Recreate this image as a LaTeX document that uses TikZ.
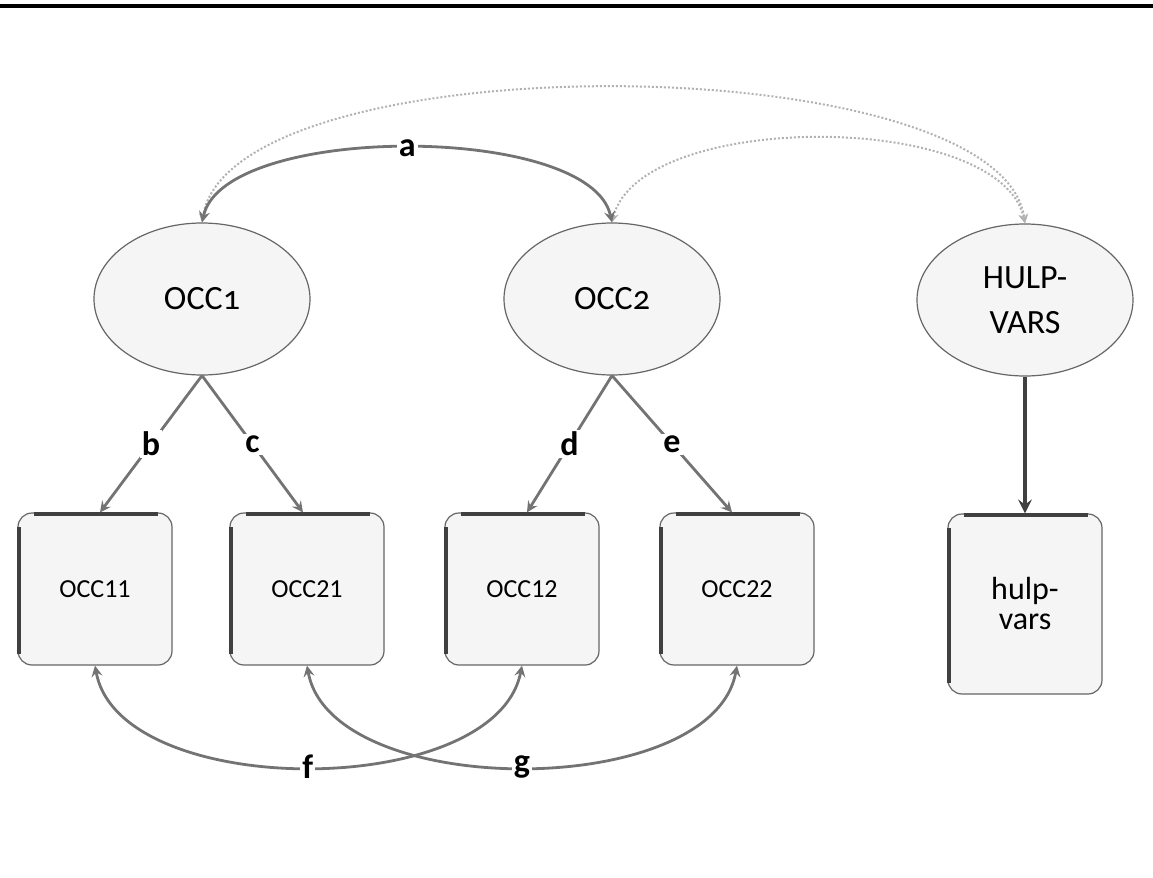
\documentclass[tikz,border=0pt]{standalone}
\usepackage{fontspec}
\setmainfont{Carlito}
\newfontfamily\oldnum[Numbers=OldStyle]{Carlito}
\usetikzlibrary{positioning, calc, shapes, arrows}

\tikzset{
  latent/.style={ellipse, draw=black!60, fill=black!4, line width=0.6pt,
    minimum width=108pt, minimum height=76pt, inner sep=0pt, align=center},
  observed/.style={rectangle, rounded corners=7pt, draw=black!60, fill=black!4,
    line width=0.6pt, minimum width=77pt, minimum height=76pt, inner sep=0pt, align=center},
  loading/.style={-stealth, draw=black!55, line width=1.4pt},
  covar/.style={stealth-stealth, draw=black!55, line width=1.4pt},
  aux/.style={stealth-stealth, draw=black!30, line width=1pt, densely dotted},
  lbl/.style={fill=white, inner sep=1pt, font=\bfseries\fontsize{17}{20}\selectfont},
  edge/.style={draw=black!75, line width=2pt}
}

\begin{document}
\begin{tikzpicture}[x=0.5pt, y=-0.5pt]
  \useasboundingbox (0,0) rectangle (1153,878);
  \draw[line width=1.8pt] (0,6) -- (1153,6);

  % latente variabelen
  \node[latent, font=\fontsize{17}{20}\selectfont] (occ1) at (202,299) {OCC{\oldnum 1}};
  \node[latent, font=\fontsize{17}{20}\selectfont] (occ2) at (612,299) {OCC{\oldnum 2}};
  \node[latent, font=\fontsize{17}{22.5}\selectfont] (hulpv) at (1025,300) {HULP-\\VARS};

  % geobserveerde variabelen
  \node[observed, font=\fontsize{13}{15}\selectfont] (occ11) at (95,589) {OCC11};
  \node[observed, font=\fontsize{13}{15}\selectfont] (occ21) at (307,589) {OCC21};
  \node[observed, font=\fontsize{13}{15}\selectfont] (occ12) at (522,589) {OCC12};
  \node[observed, font=\fontsize{13}{15}\selectfont] (occ22) at (737,589) {OCC22};
  \node[observed, minimum height=90pt, font=\fontsize{16}{15}\selectfont] (hulp) at (1025,604) {hulp-\\vars};

  \foreach \b in {occ11,occ21,occ12,occ22,hulp}{
    \draw[edge] ([xshift=8.5pt, yshift=-1pt]\b.north west) -- ([xshift=-7.5pt, yshift=-1pt]\b.north east);
    \draw[edge] ([xshift=1pt, yshift=-7.5pt]\b.north west) -- ([xshift=1pt, yshift=6pt]\b.south west);
  }

  % ladingen
  \draw[loading] (occ1.south) -- ([xshift=2.5pt]occ11.north) node[midway, lbl] {b};
  \draw[loading] (occ1.south) -- ([xshift=-2pt]occ21.north) node[midway, lbl] {c};
  \draw[loading] (occ2.south) -- ([xshift=2.5pt]occ12.north) node[midway, lbl] {d};
  \draw[loading] (occ2.south) -- ([xshift=-2.5pt]occ22.north) node[midway, lbl] {e};
  \draw[-stealth, draw=black!75, line width=2pt] (hulpv.south) -- (hulp.north);

  % hulpvariabelen
  \draw[aux] (occ1.north) .. controls (230,40) and (1000,45) .. (hulpv.north);
  \draw[aux] (occ2.north) .. controls (640,110) and (1000,110) .. (hulpv.north);

  % covarianties
  \draw[covar] (occ1.north) .. controls (225,123) and (590,123) .. (occ2.north)
    node[pos=0.5, lbl] {a};
  \draw[covar] (occ11.south) .. controls (120,801) and (495,801) .. (occ12.south)
    node[pos=0.5, lbl] {f};
  \draw[covar] (occ21.south) .. controls (332,801) and (712,801) .. (occ22.south)
    node[pos=0.5, lbl] {g};
\end{tikzpicture}
\end{document}
